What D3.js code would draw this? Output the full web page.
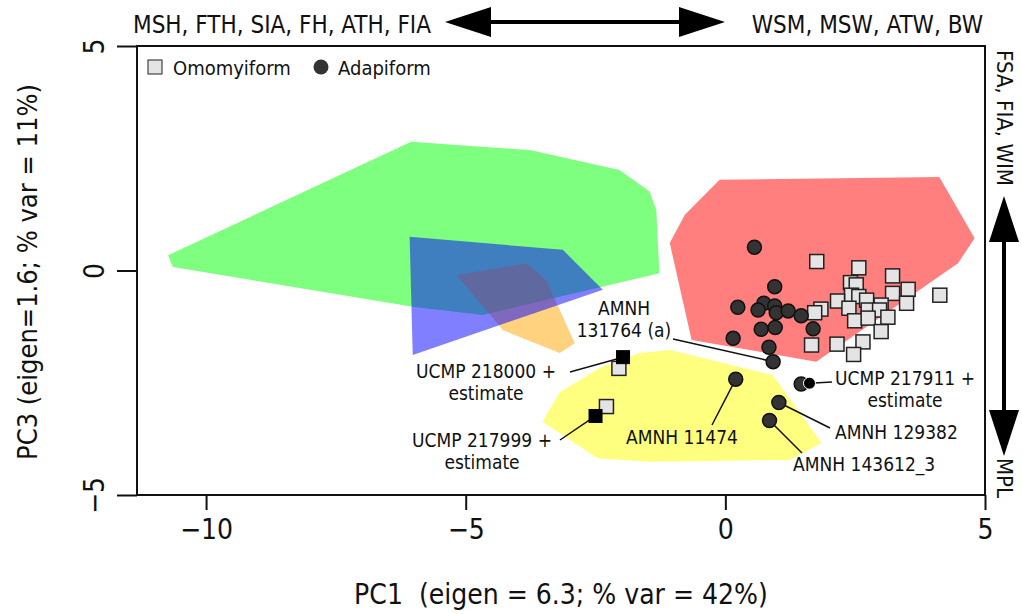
<!DOCTYPE html>
<html>
<head>
<meta charset="utf-8">
<script src="https://cdn.jsdelivr.net/npm/d3@7"></script>
<style>
  html, body { margin: 0; padding: 0; background: #fff; }
  svg text { font-family: "Liberation Sans Narrow", "DejaVu Sans Condensed", "Open Sans", sans-serif; fill: #111; white-space: pre; }
</style>
</head>
<body>
<svg id="chart" width="1022" height="614"></svg>
<script>
// PC1 / PC3 scores, Omomyiform specimens
const omoX = [1.76, 2.57, 3.22, 2.41, 2.52, 3.52, 4.13, 3.22, 2.43, 2.57, 2.72, 3.49, 2.16, 3.00,
              1.84, 1.72, 2.38, 2.75, 2.97, 3.13, 2.49, 2.75, 3.00, 1.66, 2.15, 2.65, 2.47,
              -2.05, -2.29];
const omoY = [0.20, 0.06, -0.12, -0.27, -0.32, -0.42, -0.55, -0.51, -0.55, -0.58, -0.66, -0.73, -0.68, -0.77,
              -0.86, -0.94, -0.84, -0.88, -0.88, -1.04, -1.12, -1.06, -1.36, -1.66, -1.64, -1.59, -1.87,
              -2.18, -3.03];

// PC1 / PC3 scores, Adapiform specimens
const adaX = [0.56, 0.95, 0.24, 0.74, 0.63, 0.95, 0.98, 1.21, 1.46, 1.69, 0.69, 0.96, 0.15, 0.84,
              0.92, 0.20, 1.03, 0.85, 1.46];
const adaY = [0.52, -0.36, -0.82, -0.73, -0.88, -0.79, -0.94, -0.90, -1.01, -1.30, -1.31, -1.27, -1.51, -1.71,
              -2.03, -2.42, -2.94, -3.34, -2.53];

// Estimated scores for incomplete specimens
const estNames = ["UCMP 218000", "UCMP 217999", "UCMP 217911"];
const estShape = ["square", "square", "circle"];
const estX = [-1.97, -2.50, 1.62];
const estY = [-1.93, -3.24, -2.51];

// Convex hulls of comparative groups (PC1, PC3 vertices)
const hullGreenX = [-10.73, -6.05, -3.74, -2.04, -1.46, -1.33, -1.27, -4.67, -6.02, -10.64];
const hullGreenY = [0.34, 2.87, 2.68, 2.24, 1.76, 1.35, -0.06, -0.99, -0.81, 0.08];
const hullRedX = [-1.07, -0.78, -0.11, 4.12, 4.80, 4.48, 1.75, -0.65];
const hullRedY = [0.61, 1.24, 2.02, 2.08, 0.72, 0.16, -2.03, -1.55];
const hullYellowX = [-3.52, -3.19, -2.42, -1.65, -1.07, -0.30, 0.91, 1.85, 1.24, -1.46, -2.46];
const hullYellowY = [-3.37, -2.71, -2.17, -1.84, -1.77, -1.99, -2.33, -3.84, -4.22, -4.26, -4.18];
const hullOrangeX = [-5.18, -3.83, -3.45, -2.90, -3.19, -4.28];
const hullOrangeY = [-0.10, 0.16, -0.21, -1.62, -1.84, -1.33];
const hullBlueX = [-6.08, -3.13, -2.36, -6.02];
const hullBlueY = [0.75, 0.46, -0.43, -1.88];

// Axis ticks
const xTicks = [-10, -5, 0, 5];
const yTicks = [-5, 0, 5];

const svg = d3.select("#chart");
const mLeft = 137, mRight = 985, mTop = 46, mBottom = 495;

const x = d3.scaleLinear().domain([-11.33, 5]).range([mLeft, mRight]);
const y = d3.scaleLinear().domain([-5, 5]).range([mBottom, mTop]);

// hull polygons
const hulls = [
  { xs: hullGreenX, ys: hullGreenY, fill: "#00ff00" },
  { xs: hullRedX, ys: hullRedY, fill: "#ff0000" },
  { xs: hullYellowX, ys: hullYellowY, fill: "#ffff00" },
  { xs: hullOrangeX, ys: hullOrangeY, fill: "#ffa500" },
  { xs: hullBlueX, ys: hullBlueY, fill: "#0000ff" }
];
const line = d3.line().x(d => x(d[0])).y(d => y(d[1]));
svg.append("g").selectAll("path").data(hulls).join("path")
  .attr("d", h => line(d3.zip(h.xs, h.ys)) + "Z")
  .attr("fill", h => h.fill)
  .attr("fill-opacity", 0.5)
  .attr("stroke", "none");

// callout leaders and labels
const callouts = [
  { lines: ["AMNH", "131764 (a)"], px: adaX[14], py: adaY[14], tx: 624, ty: 315, anchor: "middle", lx: 673, ly: 339 },
  { lines: ["UCMP 218000 +", "estimate"], px: estX[0], py: estY[0], tx: 486, ty: 378, anchor: "middle", lx: 570, ly: 372 },
  { lines: ["UCMP 217999 +", "estimate"], px: estX[1], py: estY[1], tx: 482, ty: 447, anchor: "middle", lx: 560, ly: 440 },
  { lines: ["AMNH 11474"], px: adaX[15], py: adaY[15], tx: 682, ty: 444, anchor: "middle", lx: 712, ly: 425 },
  { lines: ["UCMP 217911 +", "estimate"], px: estX[2], py: estY[2], tx: 905, ty: 385, anchor: "middle", lx: 832, ly: 382 },
  { lines: ["AMNH 129382"], px: adaX[16], py: adaY[16], tx: 835, ty: 439, anchor: "start", lx: 830, ly: 428 },
  { lines: ["AMNH 143612_3"], px: adaX[17], py: adaY[17], tx: 793, ty: 471, anchor: "start", lx: 802, ly: 453 }
];
const cg = svg.append("g");
cg.selectAll("line").data(callouts).join("line")
  .attr("x1", d => x(d.px)).attr("y1", d => y(d.py))
  .attr("x2", d => d.lx).attr("y2", d => d.ly)
  .attr("stroke", "#111").attr("stroke-width", 1.5);

// omomyiform squares
svg.append("g").selectAll("rect").data(d3.zip(omoX, omoY)).join("rect")
  .attr("x", d => x(d[0]) - 7).attr("y", d => y(d[1]) - 7)
  .attr("width", 14).attr("height", 14)
  .attr("fill", "#e4e4e4").attr("stroke", "#222").attr("stroke-width", 1.5);

// adapiform circles
svg.append("g").selectAll("circle").data(d3.zip(adaX, adaY)).join("circle")
  .attr("cx", d => x(d[0])).attr("cy", d => y(d[1])).attr("r", 7)
  .attr("fill", "#333").attr("stroke", "#111").attr("stroke-width", 1.5);

// estimate markers
const estG = svg.append("g");
estX.forEach((ex, i) => {
  if (estShape[i] === "square") {
    estG.append("rect").attr("x", x(ex) - 6.5).attr("y", y(estY[i]) - 6.5)
      .attr("width", 13).attr("height", 13).attr("fill", "#000").attr("stroke", "#000");
  } else {
    estG.append("circle").attr("cx", x(ex)).attr("cy", y(estY[i])).attr("r", 6)
      .attr("fill", "#000").attr("stroke", "#fff").attr("stroke-width", 1);
  }
});

callouts.forEach(d => {
  const t = svg.append("text").attr("text-anchor", d.anchor).attr("font-size", 19);
  d.lines.forEach((s, k) => t.append("tspan").attr("x", d.tx).attr("y", d.ty + k * 22).text(s));
});

// plot frame
svg.append("rect").attr("x", mLeft).attr("y", mTop).attr("width", mRight - mLeft).attr("height", mBottom - mTop)
  .attr("fill", "none").attr("stroke", "#111").attr("stroke-width", 2);

// axes
const fmt = d => d < 0 ? "\u2212" + Math.abs(d) : d;
const xAxis = d3.axisBottom(x).tickValues(xTicks).tickSize(15).tickPadding(9).tickFormat(fmt);
const gx = svg.append("g").attr("transform", `translate(0,${mBottom})`).call(xAxis);
gx.select(".domain").remove();
gx.selectAll("line").attr("stroke", "#111").attr("stroke-width", 2);
gx.selectAll("text").attr("font-size", 28).attr("fill", "#111");

const yAxis = d3.axisLeft(y).tickValues(yTicks).tickSize(20).tickPadding(0).tickFormat(fmt);
const gy = svg.append("g").attr("transform", `translate(${mLeft},0)`).call(yAxis);
gy.select(".domain").remove();
gy.selectAll("line").attr("stroke", "#111").attr("stroke-width", 2);
gy.selectAll("text").attr("font-size", 28).attr("fill", "#111")
  .attr("text-anchor", "middle").attr("dy", null)
  .attr("transform", "translate(-43,0) rotate(-90)").attr("x", 0).attr("y", 10);

// axis titles
svg.append("text").attr("x", 561).attr("y", 604).attr("text-anchor", "middle").attr("font-size", 28)
  .text("PC1  (eigen = 6.3; % var = 42%)");
svg.append("text").attr("transform", "translate(37,272) rotate(-90)").attr("text-anchor", "middle").attr("font-size", 27)
  .text("PC3 (eigen=1.6; % var = 11%)");

// legend
const lg = svg.append("g");
lg.append("rect").attr("x", 148).attr("y", 60).attr("width", 14).attr("height", 14)
  .attr("fill", "#e4e4e4").attr("stroke", "#444").attr("stroke-width", 1.2);
lg.append("text").attr("x", 173).attr("y", 75).attr("font-size", 20).text("Omomyiform");
lg.append("circle").attr("cx", 321).attr("cy", 67).attr("r", 7.5).attr("fill", "#333");
lg.append("text").attr("x", 338).attr("y", 75).attr("font-size", 20).text("Adapiform");

// loading direction annotations
svg.append("text").attr("x", 133).attr("y", 33).attr("font-size", 24).text("MSH, FTH, SIA, FH, ATH, FIA");
svg.append("text").attr("x", 983).attr("y", 33).attr("text-anchor", "end").attr("font-size", 24).text("WSM, MSW, ATW, BW");

function doubleArrow(g, x1, y1, x2, y2, headLen, headHalf) {
  const ang = Math.atan2(y2 - y1, x2 - x1);
  const ux = Math.cos(ang), uy = Math.sin(ang), nx = -uy, ny = ux;
  g.append("line").attr("x1", x1 + ux * headLen * 0.9).attr("y1", y1 + uy * headLen * 0.9)
    .attr("x2", x2 - ux * headLen * 0.9).attr("y2", y2 - uy * headLen * 0.9)
    .attr("stroke", "#000").attr("stroke-width", 4);
  const head = (px, py, dir) => {
    const bx = px - dir * ux * headLen, by = py - dir * uy * headLen;
    return [[px, py], [bx + nx * headHalf, by + ny * headHalf], [bx - nx * headHalf, by - ny * headHalf]];
  };
  g.append("polygon").attr("points", head(x2, y2, 1).join(" ")).attr("fill", "#000");
  g.append("polygon").attr("points", head(x1, y1, -1).join(" ")).attr("fill", "#000");
}
const ag = svg.append("g");
doubleArrow(ag, 445, 22, 725, 22, 46, 15);
doubleArrow(ag, 1004, 196, 1004, 456, 46, 15);

svg.append("text").attr("transform", "translate(997,50) rotate(90)").attr("font-size", 22).text("FSA, FIA, WIM");
svg.append("text").attr("transform", "translate(997,458) rotate(90)").attr("font-size", 22).text("MPL");
</script>
</body>
</html>
